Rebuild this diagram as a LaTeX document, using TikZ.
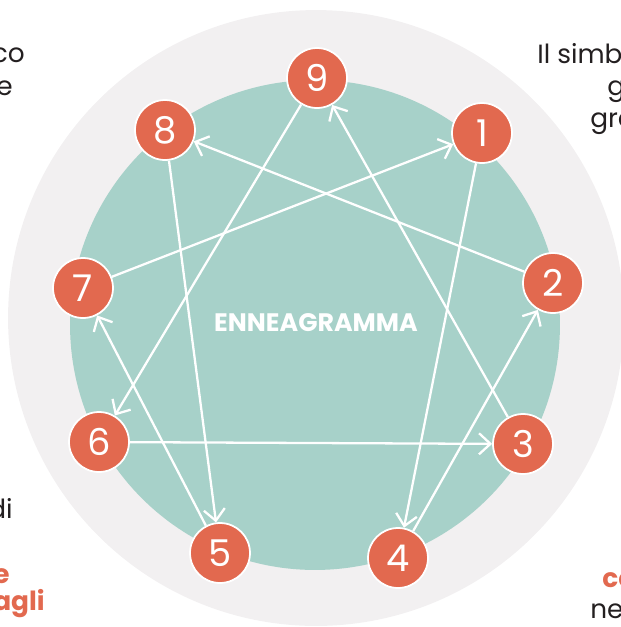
\documentclass[tikz,border=0pt]{standalone}
\usepackage{fontspec}
\setmainfont{Poppins}
\usetikzlibrary{arrows.meta}
\definecolor{ringGray}{HTML}{F2F0F1}
\definecolor{paleTeal}{HTML}{A7D1C9}
\definecolor{coral}{HTML}{E2694F}
\definecolor{inkGray}{HTML}{231F20}

\begin{document}
\begin{tikzpicture}[x=0.02cm,y=-0.02cm,
    point/.style={circle,fill=coral,draw=white,line width=1pt,minimum size=1.2cm,
      inner sep=0pt,text=white,font=\fontsize{21}{21}\selectfont},
    link/.style={draw=white,line width=1.3pt,-{Straight Barb[length=6.5pt,width=12pt]}},
    side/.style={inner sep=0pt,text=inkGray,font=\fontsize{15}{17}\selectfont},
    hint/.style={inner sep=0pt,text=coral,font=\fontsize{15}{17}\selectfont\bfseries}]
    \clip (0,0) rectangle (621,627);
    \fill[ringGray] (316,318) circle (6.16cm);
    \fill[paleTeal] (315,325) circle (4.9cm);
    \node[font=\fontsize{14.4}{15}\selectfont\bfseries,text=white] (title) at (316,323) {ENNEAGRAMMA};
    % the nine points
    \node[point] (p9) at (317,78) {9};
    \node[point] (p1) at (482,133) {1};
    \node[point] (p2) at (553,283) {2};
    \node[point] (p3) at (523,444) {3};
    \node[point] (p4) at (398,558) {4};
    \node[point] (p5) at (220,553) {5};
    \node[point] (p6) at (99,442) {6};
    \node[point] (p7) at (83,288) {7};
    \node[point] (p8) at (165,130) {8};
    % inner triangle
    \draw[link] (p9) -- (p6);
    \draw[link] (p6) -- (p3);
    \draw[link] (p3) -- (p9);
    % hexad
    \draw[link] (p1) -- (p4);
    \draw[link] (p4) -- (p2);
    \draw[link] (p2) -- (p8);
    \draw[link] (p8) -- (p5);
    \draw[link] (p5) -- (p7);
    \draw[link] (p7) -- (p1);
    % text cut at the edges
    \node[side,anchor=base east] (l1) at (25,62) {co};
    \node[side,anchor=base east] (l2) at (13,95) {e};
    \node[side,anchor=base east] (l3) at (13,518) {di};
    \node[hint,anchor=base east] (l4) at (10,583) {e};
    \node[hint,anchor=base east] (l5) at (45,610) {agli};
    \node[side,anchor=base west] (r1) at (537,63) {Il simb};
    \node[side,anchor=base west] (r2) at (607,95) {g};
    \node[side,anchor=base west] (r3) at (590,127) {gra};
    \node[hint,anchor=base west] (r4) at (602,587) {co};
    \node[side,anchor=base west] (r5) at (590,618) {ne};
\end{tikzpicture}
\end{document}
